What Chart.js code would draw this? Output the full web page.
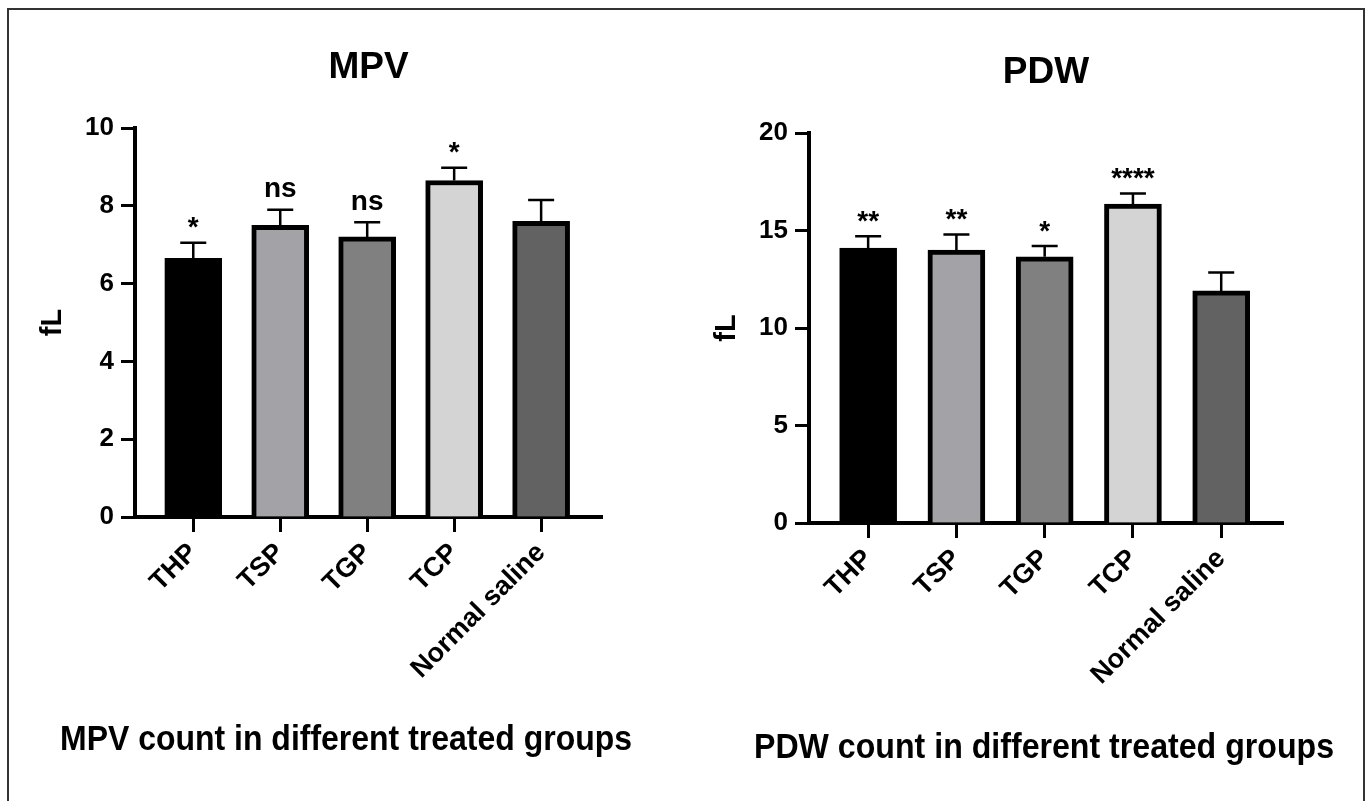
<!DOCTYPE html>
<html>
<head>
<meta charset="utf-8">
<script src="https://cdn.jsdelivr.net/npm/chart.js@4.4.0/dist/chart.umd.min.js"></script>
<style>
  html, body { margin: 0; padding: 0; background: #fff; }
  #page { position: relative; width: 1372px; height: 801px; overflow: hidden; }
  #frame { position: absolute; left: 7px; top: 8px; width: 1358px; height: 830px; border: 2px solid #333; box-sizing: border-box; }
  .box { position: absolute; top: 0; width: 686px; height: 801px; }
</style>
</head>
<body>
<div id="page">
  <div id="frame"></div>
  <div class="box" style="left:0"><canvas id="mpv_chart" width="686" height="801"></canvas></div>
  <div class="box" style="left:686px"><canvas id="pdw_chart" width="686" height="801"></canvas></div>
</div>
<script>
const groups = ['THP', 'TSP', 'TGP', 'TCP', 'Normal saline'];

const mpvMeans = [6.65, 7.5, 7.2, 8.65, 7.6];
const mpvSem = [0.4, 0.4, 0.38, 0.33, 0.55];
const mpvSig = ['*', 'ns', 'ns', '*', ''];
const mpvTicks = [0, 2, 4, 6, 8, 10];

const pdwMeans = [14.1, 14.0, 13.65, 16.35, 11.9];
const pdwSem = [0.6, 0.8, 0.55, 0.55, 0.95];
const pdwSig = ['**', '**', '*', '****', ''];
const pdwTicks = [0, 5, 10, 15, 20];

const barColors = ['#000000', '#a3a3a7', '#808080', '#d4d4d4', '#626262'];
const fontFamily = '"Liberation Sans", Arial, sans-serif';

// error bars (upper only) + significance marks
const errorBars = {
    id: 'errorBars',
    afterDatasetsDraw(chart, args, opts) {
        const ctx = chart.ctx;
        const meta = chart.getDatasetMeta(0);
        const yScale = chart.scales.y;
        ctx.save();
        ctx.strokeStyle = '#000';
        ctx.fillStyle = '#000';
        ctx.lineWidth = 2.5;
        ctx.font = 'bold 28px ' + fontFamily;
        ctx.textAlign = 'center';
        meta.data.forEach((bar, i) => {
            const top = yScale.getPixelForValue(opts.means[i] + opts.sem[i]);
            ctx.beginPath();
            ctx.moveTo(bar.x, bar.y);
            ctx.lineTo(bar.x, top);
            ctx.moveTo(bar.x - 13, top);
            ctx.lineTo(bar.x + 13, top);
            ctx.stroke();
            const s = opts.sig[i];
            if (s) {
                const m = ctx.measureText(s);
                const cy = top - 20;
                ctx.fillText(s, bar.x, cy + (m.actualBoundingBoxAscent - m.actualBoundingBoxDescent) / 2);
            }
        });
        ctx.restore();
    }
};

// chart title on top, caption below (caption font is a bit condensed)
const textBlocks = {
    id: 'textBlocks',
    afterDraw(chart, args, opts) {
        const ctx = chart.ctx;
        const area = chart.chartArea;
        ctx.save();
        ctx.fillStyle = '#000';
        ctx.textAlign = 'center';
        ctx.textBaseline = 'alphabetic';
        ctx.font = 'bold 37px ' + fontFamily;
        ctx.fillText(opts.title, (area.left + area.right) / 2, opts.titleY);
        ctx.font = 'bold 35px ' + fontFamily;
        const w = ctx.measureText(opts.caption).width;
        ctx.translate(opts.captionX, opts.captionY);
        ctx.scale(opts.captionWidth / w, 1);
        ctx.fillText(opts.caption, 0, 0);
        ctx.restore();
    }
};

function axisStyle(tickLen) {
    return {
        grid: { display: true, offset: false, drawOnChartArea: false, drawTicks: true, tickLength: tickLen, tickWidth: 3, tickColor: '#000' },
        border: { display: true, color: '#000', width: 4 }
    };
}

function makeChart(id, means, sem, sig, yTicks, txt, pad) {
    const yMax = yTicks[yTicks.length - 1];
    return new Chart(document.getElementById(id), {
        type: 'bar',
        data: {
            datasets: [{
                data: means.map((v, i) => ({ x: i, y: v })),
                backgroundColor: barColors,
                borderColor: '#000',
                borderWidth: 5,
                barThickness: 57
            }]
        },
        options: {
            responsive: false,
            animation: false,
            devicePixelRatio: 1,
            layout: { padding: pad },
            plugins: {
                legend: { display: false },
                tooltip: { enabled: false },
                errorBars: { means: means, sem: sem, sig: sig },
                textBlocks: txt
            },
            scales: {
                x: {
                    type: 'linear',
                    offset: false,
                    min: -0.67,
                    max: 4.7,
                    afterBuildTicks: s => { s.ticks = groups.map((g, i) => ({ value: i })); },
                    afterFit: s => { s.height = 200; },
                    ...axisStyle(15),
                    ticks: {
                        autoSkip: false,
                        minRotation: 45,
                        maxRotation: 45,
                        padding: 5,
                        color: '#000',
                        font: { family: fontFamily, size: 27, weight: 'bold' },
                        callback: v => groups[v]
                    }
                },
                y: {
                    min: 0,
                    max: yMax,
                    afterBuildTicks: s => { s.ticks = yTicks.map(v => ({ value: v })); },
                    afterFit: s => { s.width = 100; },
                    ...axisStyle(14),
                    ticks: {
                        padding: 7,
                        color: '#000',
                        font: { family: fontFamily, size: 26, weight: 'bold' }
                    },
                    title: {
                        display: true,
                        text: 'fL',
                        color: '#000',
                        padding: { top: 1, bottom: 0 },
                        font: { family: fontFamily, size: 29, weight: 'bold' }
                    }
                }
            }
        },
        plugins: [errorBars, textBlocks]
    });
}

makeChart('mpv_chart', mpvMeans, mpvSem, mpvSig, mpvTicks,
    { title: 'MPV', titleY: 78, caption: 'MPV count in different treated groups', captionX: 346, captionY: 750, captionWidth: 572 },
    { left: 35, right: 84, top: 128, bottom: 84 });

makeChart('pdw_chart', pdwMeans, pdwSem, pdwSig, pdwTicks,
    { title: 'PDW', titleY: 83, caption: 'PDW count in different treated groups', captionX: 358, captionY: 758, captionWidth: 580 },
    { left: 23, right: 89, top: 133, bottom: 78 });
</script>
</body>
</html>
